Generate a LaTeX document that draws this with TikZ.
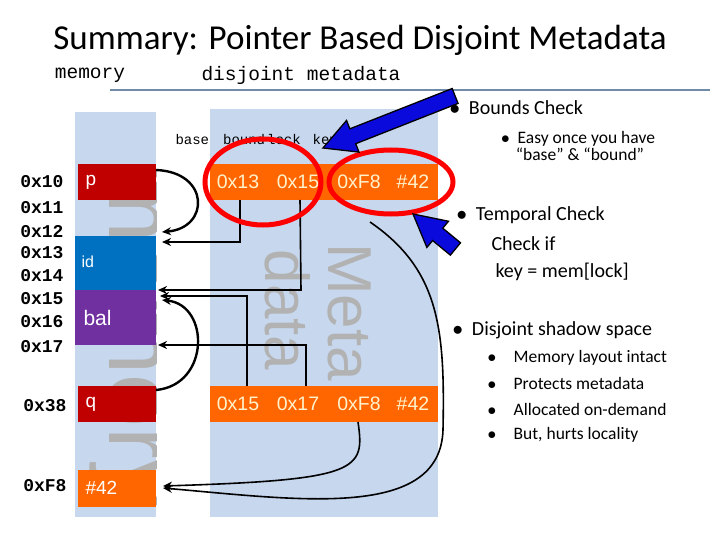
\documentclass[tikz,border=0pt]{standalone}
\usepackage{fontspec}
\setmainfont{Carlito}
\setmonofont{Liberation Mono}
\newfontfamily\arialf{Liberation Sans}
\usetikzlibrary{arrows.meta}
\definecolor{lb}{HTML}{C6D7EE}
\definecolor{dred}{HTML}{C00000}
\definecolor{ibl}{HTML}{0070C0}
\definecolor{pur}{HTML}{7030A0}
\definecolor{org}{HTML}{FF6600}
\definecolor{cream}{HTML}{FFF2CC}
\definecolor{rule}{HTML}{6F8BA8}
\definecolor{barblue}{HTML}{0A0ADC}
\newcommand{\bigarrow}[3]{% tip, angle, length
  \begin{scope}[shift={#1},rotate=#2]
    \filldraw[fill=barblue,draw=black,line width=1.3pt] (0,0) -- (32,17) -- (32,8) -- (#3,8) -- (#3,-8) -- (32,-8) -- (32,-17) -- cycle;
  \end{scope}}
\begin{document}
\begin{tikzpicture}[x=1pt,y=-1pt,
  addr/.style={anchor=east,font=\ttfamily\bfseries\fontsize{18}{18}\selectfont},
  btxt/.style={text=cream,font=\arialf\fontsize{19.5}{19.5}\selectfont},
  wt/.style={anchor=west,text=white,font=\arialf\fontsize{19}{19}\selectfont},
  wm/.style={text=gray!60,font=\arialf\fontsize{#1}{#1}\selectfont,rotate=-90},
  con/.style={line width=1.6pt,-{Stealth[length=9pt,width=8pt]}},
  ring/.style={draw=red,line width=5pt},
  bul/.style={anchor=west,font=\fontsize{20}{20}\selectfont},
  sbul/.style={anchor=west,font=\fontsize{17.5}{17.5}\selectfont}]
\useasboundingbox (0,0) rectangle (720,540);
\fill[white] (0,0) rectangle (720,540);
\node (title) at (360,40) {\fontsize{35}{35}\selectfont Summary: Pointer Based Disjoint Metadata};
\draw[rule,line width=1.2pt] (110,90) -- (710,90);
\node (hmem) at (90,75) {\ttfamily\fontsize{19.5}{19.5}\selectfont memory};
\node (hmeta) at (301,75) {\ttfamily\fontsize{19.5}{19.5}\selectfont disjoint metadata};
% columns
\fill[lb] (75,112) rectangle (156,517);
\fill[lb] (210,109) rectangle (438,517);
\begin{scope}
\clip (75,112) rectangle (156,517);
\node[wm=95] (wmem) at (125,335) {memory};
\end{scope}
\node[wm=62] (wmeta) at (350,312) {Meta};
\node[wm=62] (wdata) at (288,310) {data};
% memory boxes
\fill[dred] (78,164) rectangle (156,200); \node[wt] (p) at (82,182) {p};
\fill[ibl] (75,236) rectangle (156,290); \node[wt,font=\arialf\fontsize{16}{16}\selectfont] (id) at (78,262) {id};
\fill[pur] (75,290) rectangle (156,345); \node[wt,font=\arialf\fontsize{21}{21}\selectfont] (bal) at (80,318) {bal};
\fill[dred] (78,386) rectangle (156,422); \node[wt] (q) at (82,404) {q};
\fill[org] (78,470) rectangle (156,507); \node[wt] (h42) at (82,488) {\#42};
% addresses
\foreach \t/\y in {10/182,11/208,12/232,13/253,14/276,15/299,16/322,17/347}
  \node[addr] (a\t) at (67,\y) {0x\t};
\node[addr] (a38) at (70,406) {0x38};
\node[addr] (aF8) at (70,486) {0xF8};
% header
\node[font=\ttfamily\fontsize{14}{14}\selectfont,anchor=west] (hdr) at (172,141) {base\hspace{14pt}bound\hspace{2pt}lock\hspace{12pt}key};
% metadata bars
\fill[org] (210,164) rectangle (438,200);
\fill[org] (210,386) rectangle (438,422);
\node[btxt] (t1) at (238,182) {0x13}; \node[btxt] (t2) at (298,182) {0x15};
\node[btxt] (t3) at (359,182) {0xF8}; \node[btxt] (t4) at (413,182) {\#42};
\node[btxt] (b1) at (238,404) {0x15}; \node[btxt] (b2) at (298,404) {0x17};
\node[btxt] (b3) at (359,404) {0xF8}; \node[btxt] (b4) at (413,404) {\#42};
\coordinate (c13) at (240,200); \coordinate (c15) at (300,200);
\coordinate (d15) at (247,386); \coordinate (d17) at (306,386);
\coordinate (e1) at (162,242); \coordinate (e2) at (158,290);
\coordinate (e3) at (160,296); \coordinate (e4) at (158,345);
\coordinate (e5) at (162,232); \coordinate (e6) at (162,300);
\coordinate (e7) at (163,486); \coordinate (e8) at (163,488);
% connectors
\draw[con] (c13) |- (e1);
\draw[con] (c15) -- (301,290) -- (e2);
\draw[con] (d15) |- (e3);
\draw[con] (d17) |- (e4);
\draw[con,line width=2.4pt] (156,170) .. controls (210,172) and (210,228) .. (e5);
\draw[con,line width=2.4pt] (156,390) .. controls (210,385) and (210,305) .. (e6);
\draw[con] (358,422) .. controls (365,470) and (360,480) .. (e7);
\draw[con] (370,222) .. controls (440,270) and (445,330) .. (443,430) .. controls (440,520) and (300,500) .. (e8);
% rings
\draw[ring] (263,182) ellipse [x radius=58,y radius=43];
\draw[ring] (391,182) ellipse [x radius=62,y radius=32];
% blue arrows
\bigarrow{(323,148)}{21.5}{142}
\bigarrow{(413,214)}{-39.5}{55}
% right text
\node[bul] (r1) at (446,108) {$\bullet$\ \ Bounds Check};
\node[sbul,align=center,anchor=center] (r2) at (578,146) {$\bullet$\ \ Easy once you have\\ \ “base” \& “bound”};
\node[bul] (r3) at (453,215) {$\bullet$\ \ Temporal Check};
\node[bul] (r4) at (488,244) {Check if};
\node[bul] (r5) at (492,272) {key = mem[lock]};
\node[bul] (r6) at (449,330) {$\bullet$\ \ Disjoint shadow space};
\foreach \t/\y in {Memory layout intact/358,Protects metadata/383,Allocated on-demand/409,{But, hurts locality}/435}
  \node[sbul] at (484,\y) {$\bullet$\quad \t};
\end{tikzpicture}
\end{document}
